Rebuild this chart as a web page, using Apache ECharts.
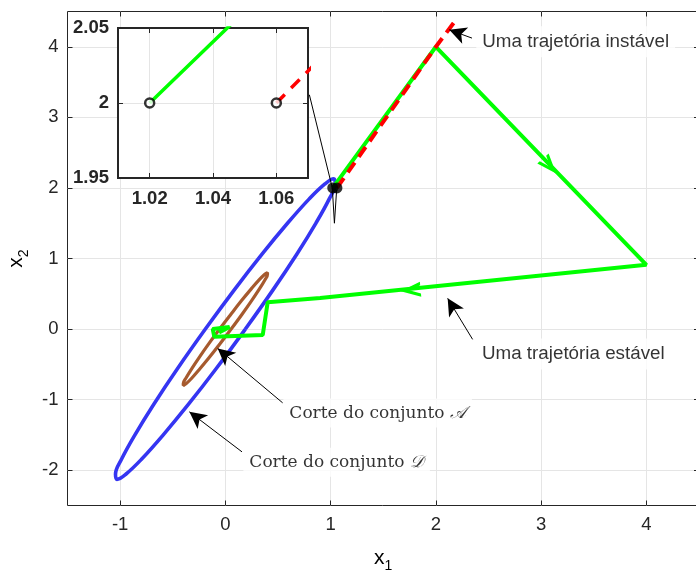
<!DOCTYPE html>
<html><head><meta charset="utf-8">
<script src="https://cdn.jsdelivr.net/npm/echarts@6/dist/echarts.min.js"></script>
<style>html,body{margin:0;padding:0;background:#fff}#c{width:696px;height:571px}</style>
</head><body><div id="c"></div>
<script>
// ---- data ----
const xTicks = [-1, 0, 1, 2, 3, 4];
const yTicks = [-2, -1, 0, 1, 2, 3, 4];
const insetXTicks = [1.02, 1.04, 1.06];
const insetYLabels = [1.95, 2, 2.05];
const insetYTicks = [2];

const blueEllipse = [[0.19,0],[-0.083,-0.552],[-0.350,-1.065],[-0.594,-1.506],[-0.797,-1.845],[-0.946,-2.057],[-1.03,-2.13],[-1.044,-2.057],[-0.987,-1.845],[-0.862,-1.506],[-0.680,-1.065],[-0.451,-0.552],[-0.19,0],[0.083,0.552],[0.350,1.065],[0.594,1.506],[0.797,1.845],[0.946,2.057],[1.03,2.13],[1.044,2.057],[0.987,1.845],[0.862,1.506],[0.680,1.065],[0.451,0.552],[0.19,0]];
const brownEllipse = [[0.055,0],[-0.051,-0.207],[-0.152,-0.4],[-0.244,-0.566],[-0.318,-0.693],[-0.372,-0.773],[-0.4,-0.8],[-0.4,-0.773],[-0.374,-0.693],[-0.322,-0.566],[-0.248,-0.4],[-0.157,-0.207],[-0.055,0],[0.051,0.207],[0.152,0.4],[0.244,0.566],[0.318,0.693],[0.372,0.773],[0.4,0.8],[0.4,0.773],[0.374,0.693],[0.322,0.566],[0.248,0.4],[0.157,0.207],[0.055,0]];
const stablePath = [[1.02,2],[2,4],[4,0.91],[0.9,0.44],[0.402,0.379],[0.355,-0.085],[-0.105,-0.11],[-0.12,0.0],[0.04,0.03],[-0.06,-0.05]];
const unstablePath = [[1.06,2],[2,4],[2.2,4.4]];
const initialPoints = [[1.02,2],[1.06,2]];
const pointerLine = [[0.798,3.32],[1.016,2.0],[1.036,1.50],[1.057,1.97]];
const pathArrowTails = [[2.95,2.532],[2.05,0.59]];
const pathArrowTips = [[3.08,2.31],[1.76,0.55]];
const annoTails = [[2.343,4.123],[2.349,-0.146],[0.544,-1.045],[0.158,-1.74]];
const annoHeads = [[2.127,4.241],[2.112,0.435],[-0.073,-0.274],[-0.342,-1.173]];
const annoTextPos = [[2.384,4.071],[2.381,-0.355],[0.551,-1.191],[0.171,-1.887]];
const annoTexts = ['Uma trajetória instável','Uma trajetória estável','{t|Corte do conjunto }{c|𝒜}','{t|Corte do conjunto }{c|𝒟}'];
const annoSerif = [false,false,true,true];

// ---- styles ----
const SANS = 'Liberation Sans, Arial, Helvetica, sans-serif';
const SERIF = 'DejaVu Serif, serif';
const AX = '#262626';
const GRIDC = '#e5e5e5';
const GREEN = '#00ff00', RED = '#ff0000', BLUE = '#3535f2', BROWN = '#a65a2e';

function mainAxis(isX, pos, showLabel, ticks, min, max, extra) {
  return Object.assign({
    type: 'value', gridIndex: 0, position: pos, min: min, max: max,
    axisLine: {show: false, onZero: false},
    axisTick: {show: true, inside: true, length: 5, customValues: ticks, lineStyle: {color: AX, width: 1}},
    axisLabel: {show: showLabel, customValues: ticks, fontSize: 18.5, fontFamily: SANS, color: AX, margin: isX ? 10 : 9},
    splitLine: {show: showLabel, lineStyle: {color: GRIDC, width: 1}},
    z: 0
  }, extra || {});
}
function insetAxis(pos, showLabel, labels, ticks, min, max, margin) {
  return {
    type: 'value', gridIndex: 1, position: pos, min: min, max: max,
    axisLine: {show: false, onZero: false},
    axisTick: {show: true, inside: true, length: 5, customValues: ticks, lineStyle: {color: AX, width: 1}},
    axisLabel: {show: showLabel, customValues: labels, fontSize: 18.5, fontWeight: 'bold', fontFamily: SANS, color: AX, margin: margin},
    splitLine: {show: showLabel, lineStyle: {color: GRIDC, width: 1}},
    z: 4
  };
}
const nameRich = {
  x: {fontSize: 21, fontFamily: SANS, color: '#000', lineHeight: 30, verticalAlign: 'middle'},
  s: {fontSize: 14, fontFamily: SANS, color: '#000', lineHeight: 14, verticalAlign: 'bottom'}
};

const chart = echarts.init(document.getElementById('c'), null, {renderer: 'canvas'});
const option = {
  animation: false,
  backgroundColor: '#fff',
  grid: [
    {left: 67.5, top: 11.5, width: 631.5, height: 494, show: true, borderColor: AX, borderWidth: 1, backgroundColor: 'transparent', z: 0, containLabel: false, outerBoundsMode: 'none'},
    {left: 118, top: 28, width: 190, height: 150, show: true, borderColor: AX, borderWidth: 2, backgroundColor: '#fff', z: 3, containLabel: false, outerBoundsMode: 'none'}
  ],
  xAxis: [
    mainAxis(true, 'bottom', true, xTicks, -1.5, 4.5, {name: '{x|x}{s|1}', nameLocation: 'middle', nameGap: 38, nameTextStyle: {rich: nameRich}}),
    mainAxis(true, 'top', false, xTicks, -1.5, 4.5),
    insetAxis('bottom', true, insetXTicks, insetXTicks, 1.01, 1.07, 11),
    insetAxis('top', false, insetXTicks, insetXTicks, 1.01, 1.07, 11)
  ],
  yAxis: [
    mainAxis(false, 'left', true, yTicks, -2.5, 4.5, {name: '{x|x}{s|2}', nameLocation: 'middle', nameGap: 29, nameTextStyle: {rich: nameRich}}),
    mainAxis(false, 'right', false, yTicks, -2.5, 4.5),
    insetAxis('left', true, insetYLabels, insetYTicks, 1.95, 2.05, 9),
    insetAxis('right', false, insetYLabels, insetYTicks, 1.95, 2.05, 9)
  ],
  series: [
    {type: 'line', name: 'D', xAxisIndex: 0, yAxisIndex: 0, data: blueEllipse, smooth: 0.4, symbol: 'none',
     lineStyle: {color: BLUE, width: 3.6}, z: 2},
    {type: 'line', name: 'A', xAxisIndex: 0, yAxisIndex: 0, data: brownEllipse, smooth: 0.4, symbol: 'none',
     lineStyle: {color: BROWN, width: 3.2}, z: 2},
    {type: 'line', name: 'stable', xAxisIndex: 0, yAxisIndex: 0, data: stablePath, symbol: 'none',
     lineStyle: {color: GREEN, width: 4}, z: 3,
     markLine: {silent: true, symbol: ['none', 'path://M0,0 L8,16 L4.5,16 L0,7 L-4.5,16 L-8,16 Z'], symbolSize: [15, 20],
       label: {show: false}, lineStyle: {color: GREEN, width: 0, opacity: 1}, emphasis: {disabled: true},
       data: pathArrowTails.map((t, i) => [{coord: t}, {coord: pathArrowTips[i]}])}},
    {type: 'line', name: 'unstable', xAxisIndex: 0, yAxisIndex: 0, data: unstablePath, symbol: 'none',
     lineStyle: {color: RED, width: 4, type: [12, 7]}, z: 4},
    {type: 'scatter', name: 'x0', xAxisIndex: 0, yAxisIndex: 0, data: initialPoints, symbol: 'circle', symbolSize: 11,
     itemStyle: {color: '#000'}, z: 5},
    {type: 'line', name: 'pointer', xAxisIndex: 0, yAxisIndex: 0, data: pointerLine, symbol: 'none',
     lineStyle: {color: '#000', width: 1}, z: 5,
     markLine: {silent: true, symbol: ['none', 'arrow'], symbolSize: [13, 17],
       label: {show: false}, lineStyle: {color: '#000', width: 1, type: 'solid'}, emphasis: {disabled: true},
       data: annoTails.map((t, i) => [{coord: t}, {coord: annoHeads[i]}])}},
    {type: 'scatter', name: 'labels', xAxisIndex: 0, yAxisIndex: 0, symbolSize: 0, z: 6, silent: true,
     data: annoTextPos.map((p, i) => ({
       value: p,
       label: {show: true, position: 'right', distance: 0, formatter: annoTexts[i], backgroundColor: '#fff', padding: [6, 6],
         color: '#000', fontSize: annoSerif[i] ? 17 : 18.8, fontFamily: annoSerif[i] ? SERIF : SANS,
         rich: {t: {fontSize: 17, fontFamily: SERIF, color: '#000'}, c: {fontSize: 17, fontFamily: SERIF, fontStyle: 'italic', color: '#000'}}}
     }))},
    // inset
    {type: 'line', name: 'stable-inset', xAxisIndex: 2, yAxisIndex: 2, data: stablePath, symbol: 'none',
     lineStyle: {color: GREEN, width: 3.5}, z: 5, clip: true},
    {type: 'line', name: 'unstable-inset', xAxisIndex: 2, yAxisIndex: 2, data: unstablePath, symbol: 'none',
     lineStyle: {color: RED, width: 3.5, type: [12, 9]}, z: 5, clip: true},
    {type: 'scatter', name: 'x0-inset', xAxisIndex: 2, yAxisIndex: 2, data: initialPoints, symbol: 'circle', symbolSize: 9,
     itemStyle: {color: '#fff', borderColor: '#000', borderWidth: 2.5}, z: 6}
  ]
};
chart.setOption(option);
</script>
</body></html>
